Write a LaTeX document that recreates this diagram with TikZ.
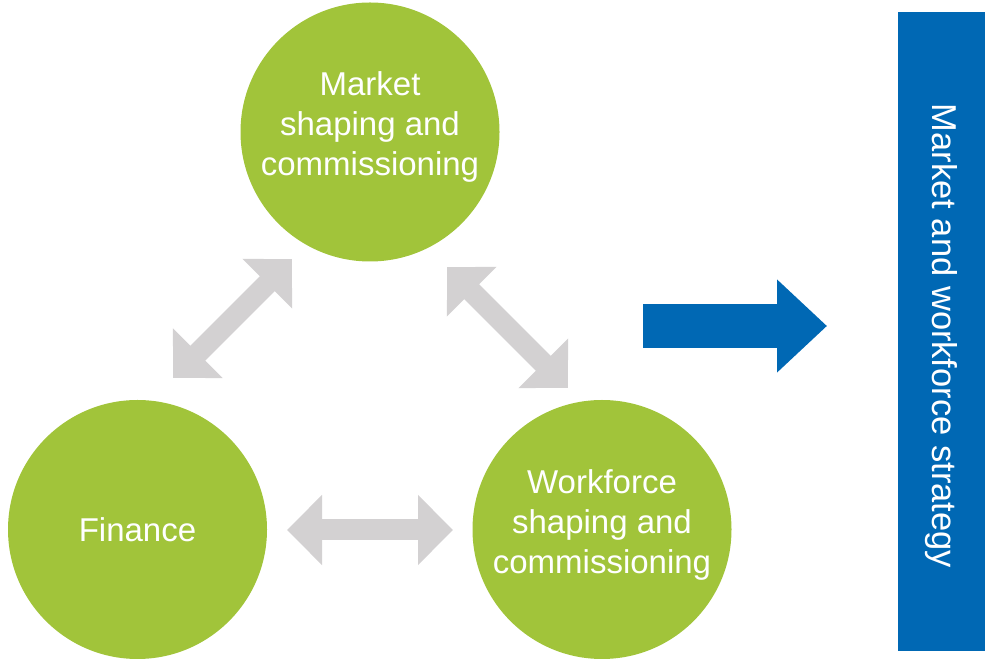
\documentclass[tikz,border=0pt]{standalone}
\usepackage{fontspec}
\setmainfont{Liberation Sans}
\usepackage{tikz}
\usetikzlibrary{arrows.meta,positioning}
\definecolor{leafgreen}{HTML}{A1C43A}
\definecolor{arrowgrey}{HTML}{D3D1D2}
\definecolor{stratblue}{HTML}{0068B4}

\begin{document}
\begin{tikzpicture}[x=1pt,y=1pt,node distance=464.5pt]
                  \tikzstyle{every node}=[font=\fontsize{33}{40}\selectfont]
                  \tikzstyle{topic}=[circle,fill=leafgreen,draw=none,text=white,minimum size=259pt,inner sep=0pt]
                  \tikzstyle{link}=[arrowgrey,line width=21pt,{Triangle[width=68pt,length=35pt]}-{Triangle[width=68pt,length=35pt]}]

                  \useasboundingbox (0,0) rectangle (985,661);

                  \node[topic,label={[yshift=5pt,text=white,align=center]center:Market\\shaping and\\commissioning}] (mkt) at (370,529) {};
                  \node[topic]         (fin) at (137.5,131.5) {Finance};
                  \node[topic,label={[yshift=5pt,text=white,align=center]center:Workforce\\shaping and\\commissioning}] (wf) [right of=fin] {};

                  \node[fill=stratblue,text=white,rotate=-90,minimum width=639pt,minimum height=87pt,inner sep=0pt,font=\fontsize{34.5}{40}\selectfont] (strat) at (941.5,329.5) {\hspace*{9pt}Market and workforce strategy};

                  % ends of the grey links
                  \coordinate (finA) at (173,283);
                  \coordinate (mktA) at (292,402);
                  \coordinate (mktB) at (447,394);
                  \coordinate (wfB)  at (568,273);
                  \coordinate (finC) at (287,131);
                  \coordinate (wfC)  at (453,131);
                  \coordinate (pushA) at (643,335);
                  \coordinate (pushB) at (827,335);

                  \draw[link] (finA) -- (mktA);
                  \draw[link] (mktB) -- (wfB);
                  \draw[link] (finC) -- (wfC);
                  \draw[stratblue,line width=44pt,-{Triangle[width=90pt,length=50pt]}] (pushA) -- (pushB);
                \end{tikzpicture}
\end{document}
